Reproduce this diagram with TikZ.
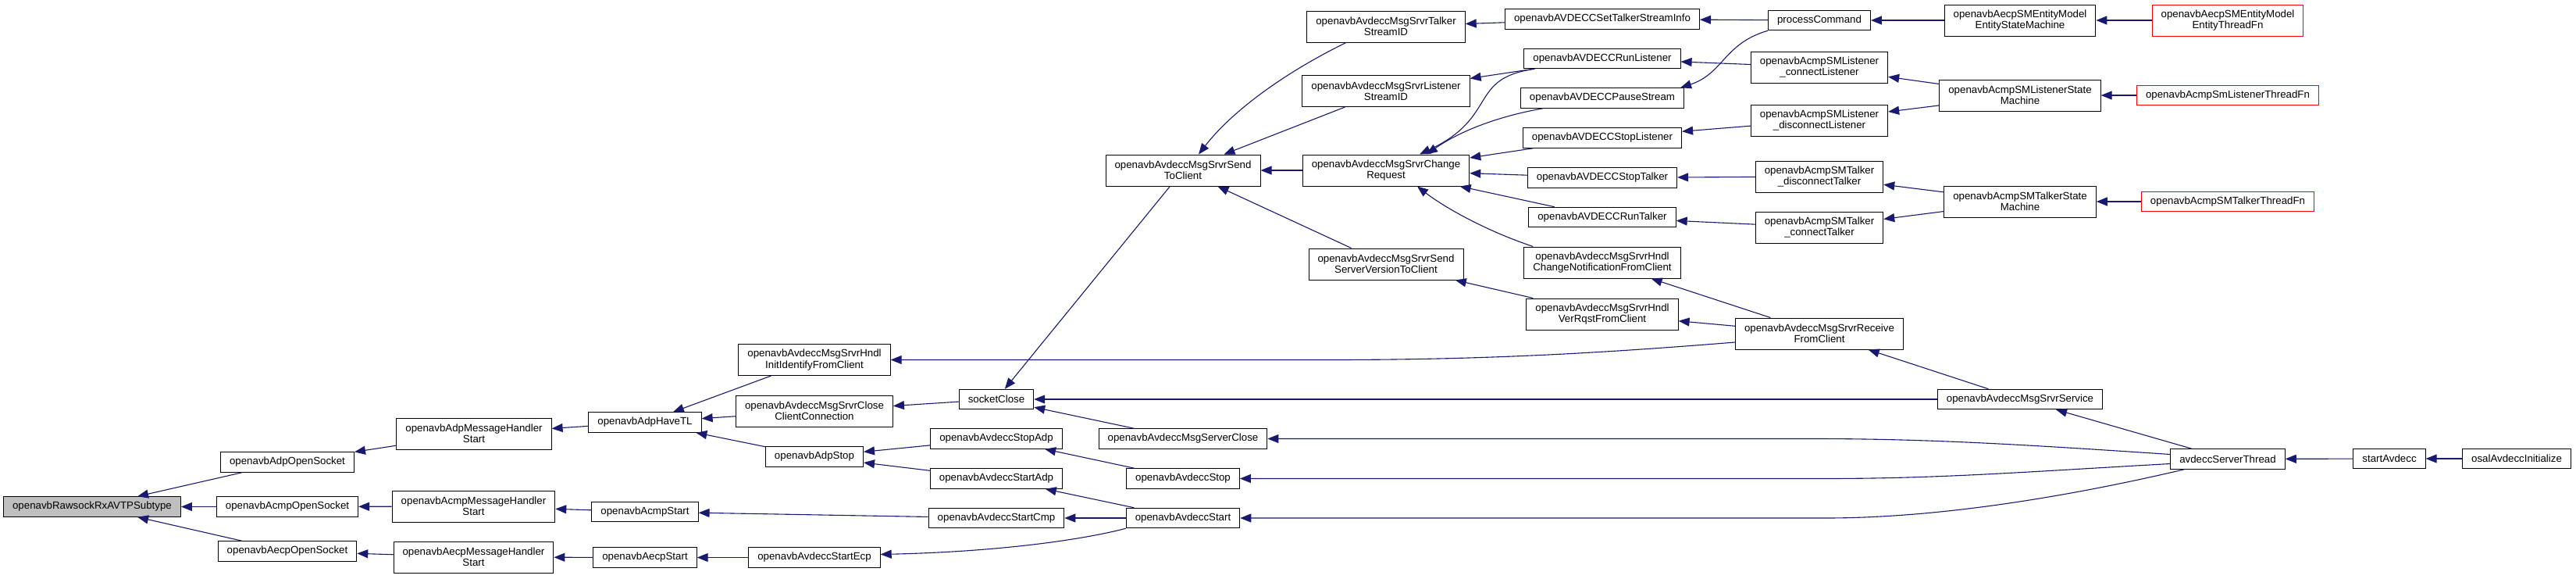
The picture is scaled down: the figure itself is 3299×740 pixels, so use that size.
\documentclass[tikz,border=0pt]{standalone}
\usepackage{fontspec}
\newfontfamily\nodefont{Liberation Sans}
\usetikzlibrary{arrows.meta,calc}
\definecolor{navy}{RGB}{25,25,112}
\definecolor{rootgray}{RGB}{191,191,191}
\definecolor{trred}{RGB}{255,0,0}
\tikzset{
  nd/.style={draw=black, line width=0.5pt, fill=white, inner xsep=5.75pt, inner ysep=0pt,
    minimum height=12.75pt, align=center, font={\nodefont\fontsize{6.65pt}{7.2pt}\selectfont}},
  nd2/.style={nd, minimum height=20pt},
  rootnd/.style={nd, fill=rootgray},
  rednd/.style={nd, draw=trred},
  rednd2/.style={nd2, draw=trred},
  edge/.style={draw=navy, line width=0.55pt, -{Triangle[length=7pt,width=5.5pt]}},
}
\begin{document}
\begin{tikzpicture}[x=0.5pt,y=-0.5pt]
\useasboundingbox (0,0) rectangle (3299,740);
% column 1
\node[rootnd] (root) at (118,648.5) {openavbRawsockRxAVTPSubtype};
% column 2
\node[nd] (adpos) at (368,591.5) {openavbAdpOpenSocket};
\node[nd] (acmpos) at (368,648.5) {openavbAcmpOpenSocket};
\node[nd] (aecpos) at (368,705.5) {openavbAecpOpenSocket};
% column 3
\node[nd2] (adpmh) at (607,555) {openavbAdpMessageHandler\\Start};
\node[nd2] (acmpmh) at (606.5,648) {openavbAcmpMessageHandler\\Start};
\node[nd2] (aecpmh) at (606.5,713) {openavbAecpMessageHandler\\Start};
% column 4
\node[nd] (adphtl) at (826,540.5) {openavbAdpHaveTL};
\node[nd] (acmpst) at (826,655) {openavbAcmpStart};
\node[nd] (aecpst) at (826,713.5) {openavbAecpStart};
% column 5
\node[nd2] (hndlinit) at (1043,460.5) {openavbAvdeccMsgSrvrHndl\\InitIdentifyFromClient};
\node[nd2] (closecc) at (1043,526) {openavbAvdeccMsgSrvrClose\\ClientConnection};
\node[nd] (adpstop) at (1043,584.5) {openavbAdpStop};
\node[nd] (startecp) at (1043,713.5) {openavbAvdeccStartEcp};
% column 6
\node[nd] (sockclose) at (1276,511) {socketClose};
\node[nd] (stopadp) at (1276,561.5) {openavbAvdeccStopAdp};
\node[nd] (startadp) at (1276,612.5) {openavbAvdeccStartAdp};
\node[nd] (startcmp) at (1276,663) {openavbAvdeccStartCmp};
% column 7
\node[nd2] (sendtoc) at (1515,218) {openavbAvdeccMsgSrvrSend\\ToClient};
\node[nd] (msgsclose) at (1515,561.5) {openavbAvdeccMsgServerClose};
\node[nd] (avstop) at (1515,612.5) {openavbAvdeccStop};
\node[nd] (avstart) at (1515,663) {openavbAvdeccStart};
% column 8
\node[nd2] (talksid) at (1775,34) {openavbAvdeccMsgSrvrTalker\\StreamID};
\node[nd2] (lissid) at (1775,116.5) {openavbAvdeccMsgSrvrListener\\StreamID};
\node[nd2] (chgreq) at (1775,218) {openavbAvdeccMsgSrvrChange\\Request};
\node[nd2] (sendver) at (1775,338) {openavbAvdeccMsgSrvrSend\\ServerVersionToClient};
% column 9
\node[nd] (settalk) at (2052,24.5) {openavbAVDECCSetTalkerStreamInfo};
\node[nd] (runlis) at (2052,75) {openavbAVDECCRunListener};
\node[nd] (pause) at (2052,125.5) {openavbAVDECCPauseStream};
\node[nd] (stoplis) at (2052,176.5) {openavbAVDECCStopListener};
\node[nd] (stoptalk) at (2052,227.5) {openavbAVDECCStopTalker};
\node[nd] (runtalk) at (2052,278) {openavbAVDECCRunTalker};
\node[nd2] (hndlchg) at (2052,336) {openavbAvdeccMsgSrvrHndl\\ChangeNotificationFromClient};
\node[nd2] (verrq) at (2052,402) {openavbAvdeccMsgSrvrHndl\\VerRqstFromClient};
% column 10
\node[nd] (proccmd) at (2330,26) {processCommand};
\node[nd2] (conlis) at (2330,86) {openavbAcmpSMListener\\\_connectListener};
\node[nd2] (disclis) at (2330,154) {openavbAcmpSMListener\\\_disconnectListener};
\node[nd2] (disctalk) at (2330,226) {openavbAcmpSMTalker\\\_disconnectTalker};
\node[nd2] (contalk) at (2330,291) {openavbAcmpSMTalker\\\_connectTalker};
\node[nd2] (recv) at (2330,427) {openavbAvdeccMsgSrvrReceive\\FromClient};
% column 11
\node[nd2] (entsm) at (2587,26) {openavbAecpSMEntityModel\\EntityStateMachine};
\node[nd2] (lissm) at (2587,122) {openavbAcmpSMListenerState\\Machine};
\node[nd2] (talksm) at (2587,258) {openavbAcmpSMTalkerState\\Machine};
\node[nd] (service) at (2587,511) {openavbAvdeccMsgSrvrService};
% column 12
\node[rednd2] (entthr) at (2853,26) {openavbAecpSMEntityModel\\EntityThreadFn};
\node[rednd] (listhr) at (2853,122) {openavbAcmpSmListenerThreadFn};
\node[rednd] (talkthr) at (2853,258) {openavbAcmpSMTalkerThreadFn};
\node[nd] (servthr) at (2853,587.5) {avdeccServerThread};
% columns 13, 14
\node[nd] (startav) at (3060,587) {startAvdecc};
\node[nd] (osal) at (3223,587) {osalAvdeccInitialize};

% edges
\draw[edge] (adpos) -- (root);
\draw[edge] (acmpos) -- (root);
\draw[edge] (aecpos) -- (root);
\draw[edge] (adpmh) -- (adpos);
\draw[edge] (acmpmh) -- (acmpos);
\draw[edge] (aecpmh) -- (aecpos);
\draw[edge] (adphtl) -- (adpmh);
\draw[edge] (acmpst) -- (acmpmh);
\draw[edge] (aecpst) -- (aecpmh);
\draw[edge] (hndlinit) -- (adphtl);
\draw[edge] (closecc) -- (adphtl);
\draw[edge] (adpstop) -- (adphtl);
\draw[edge] (startcmp) -- (acmpst);
\draw[edge] (startecp) -- (aecpst);
\draw[edge] (sockclose) -- (closecc);
\draw[edge] (stopadp) -- (adpstop);
\draw[edge] (startadp) -- (adpstop);
\draw[edge] (avstart.south west) .. controls +(-53,14) and +(154,-3.5) .. ($(startecp.east)+(0,-4)$);
\draw[edge] (sendtoc) -- (sockclose);
\draw[edge] (msgsclose) -- (sockclose);
\draw[edge] (avstop) -- (stopadp);
\draw[edge] (avstart) -- (startadp);
\draw[edge] (avstart) -- (startcmp);
\draw[edge] (service) -- (sockclose);
\draw[edge] ($(recv.west)+(0,11)$) .. controls +(-173,14) and +(200,0) .. ($(hndlinit.east)+(562,0)$) -- (hndlinit.east);
\draw[edge] ($(talksid.south)+(-51,0)$) .. controls +(-74,36) and +(45,-58) .. ($(sendtoc.north)+(20,0)$);
\draw[edge] (lissid) -- (sendtoc);
\draw[edge] (chgreq) -- (sendtoc);
\draw[edge] (sendver) -- (sendtoc);
\draw[edge] (settalk) -- (talksid);
\draw[edge] (runlis) -- (lissid);
\draw[edge] ($(runlis.south west)+(14,0)$) .. controls +(-86,12) and +(102,-48) .. ($(chgreq.north)+(43,0)$);
\draw[edge] ($(pause.south west)+(29,0)$) .. controls +(-57,10) and +(43,-30) .. ($(chgreq.north)+(52,0)$);
\draw[edge] (stoplis) -- (chgreq);
\draw[edge] (stoptalk) -- (chgreq);
\draw[edge] (runtalk) -- (chgreq);
\draw[edge] ($(hndlchg.north west)+(12,0)$) .. controls +(-60,-20) and +(35,27) .. ($(chgreq.south)+(40,0)$);
\draw[edge] (verrq) -- (sendver);
\draw[edge] (proccmd) -- (settalk);
\draw[edge] (proccmd.south west) .. controls +(-56,16) and +(55,-18) .. ($(pause.north east)+(-5,0)$);
\draw[edge] (conlis) -- (runlis);
\draw[edge] (disclis) -- (stoplis);
\draw[edge] (disctalk) -- (stoptalk);
\draw[edge] (contalk) -- (runtalk);
\draw[edge] (recv) -- (hndlchg);
\draw[edge] (recv) -- (verrq);
\draw[edge] (entsm) -- (proccmd);
\draw[edge] (lissm) -- (conlis);
\draw[edge] (lissm) -- (disclis);
\draw[edge] (talksm) -- (disctalk);
\draw[edge] (talksm) -- (contalk);
\draw[edge] (service) -- (recv);
\draw[edge] (entthr) -- (entsm);
\draw[edge] (listhr) -- (lissm);
\draw[edge] (talkthr) -- (talksm);
\draw[edge] (servthr) -- (service);
\draw[edge] ($(servthr.west)+(0,-6)$) .. controls +(-180,-12) and +(150,0) .. ($(msgsclose.east)+(700,0)$) -- (msgsclose.east);
\draw[edge] ($(servthr.west)+(0,6)$) .. controls +(-180,10) and +(150,0) .. ($(avstop.east)+(750,0)$) -- (avstop.east);
\draw[edge] ($(servthr.south west)+(18,0)$) .. controls +(-149,35) and +(144,0) .. ($(avstart.east)+(750,0)$) -- (avstart.east);
\draw[edge] (startav) -- (servthr);
\draw[edge] (osal) -- (startav);
\end{tikzpicture}
\end{document}
